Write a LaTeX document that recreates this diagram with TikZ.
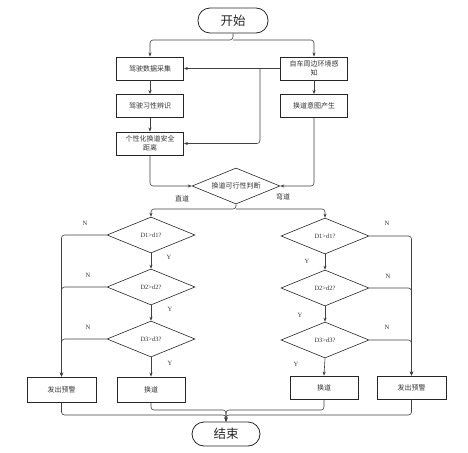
\documentclass[tikz,border=0pt]{standalone}
\usepackage{fontspec}
\setmainfont{Liberation Serif}
\newfontfamily\cjk{Noto Sans CJK SC}
\usetikzlibrary{shapes.geometric,arrows.meta}
\begin{document}
\begin{tikzpicture}[x=1pt,y=-1pt,
  box/.style={draw=black!85, line width=0.9pt, minimum width=67pt, minimum height=23pt, inner sep=1pt,
    font=\cjk\fontsize{7}{9}\selectfont, text=black!80, align=center},
  term/.style={draw=black!85, line width=0.8pt, rounded corners=12pt, minimum width=70pt, minimum height=25pt,
    font=\cjk\fontsize{12.5}{14}\selectfont, text=black!85},
  dia/.style={diamond, draw=black!85, line width=0.6pt, aspect=2.45, minimum width=88pt, minimum height=36pt,
    inner sep=0pt, font=\fontsize{6.5}{8}\selectfont, text=black!80},
  fdia/.style={dia, font=\cjk\fontsize{7}{8}\selectfont},
  conn/.style={draw=black!75, line width=0.6pt, rounded corners=3pt, -{Stealth[length=4pt,width=3.2pt]}},
  lab/.style={font=\fontsize{6.5}{8}\selectfont, text=black!80, inner sep=0pt},
  clab/.style={font=\cjk\fontsize{7}{8}\selectfont, text=black!80, inner sep=0pt}]
\useasboundingbox (0,0) rectangle (468,452);

\node[term] (start) at (233,20.5) {开始};
\node[box] (b1) at (150,68.5) {驾驶数据采集};
\node[box] (r1) at (314,68.5) {自车周边环境感\\知};
\node[box] (b2) at (150,106) {驾驶习性辨识};
\node[box] (r2) at (314,106) {换道意图产生};
\node[box] (b3) at (150,143.5) {个性化换道安全\\距离};
\node[fdia] (fd) at (236,186) {换道可行性判断};

\node[dia] (L1) at (151,235) {D1>d1?};
\node[dia] (L2) at (151,287) {D2>d2?};
\node[dia] (L3) at (151,339) {D3>d3?};
\node[dia] (R1) at (325,236) {D1>d1?};
\node[dia] (R2) at (325,288) {D2>d2?};
\node[dia] (R3) at (325,340) {D3>d3?};

\node[box, minimum width=69pt, minimum height=25pt] (LW) at (61.5,389.5) {发出预警};
\node[box, minimum width=68pt, minimum height=25pt] (LC) at (151,389.5) {换道};
\node[box, minimum width=68pt] (RC) at (324,387.5) {换道};
\node[box, minimum width=69pt] (RW) at (411.5,387.5) {发出预警};
\node[term, minimum width=68pt, minimum height=24pt] (end) at (226,434) {结束};

% labels
\node[clab] (zd) at (182,199) {直道};
\node[clab] (wd) at (283,197) {弯道};
\node[lab] (ly1) at (169,257) {Y};
\node[lab] (ly2) at (170,309) {Y};
\node[lab] (ly3) at (170,363) {Y};
\node[lab] (ln1) at (85,223) {N};
\node[lab] (ln2) at (88,275) {N};
\node[lab] (ln3) at (88,327) {N};
\node[lab] (ry1) at (307,261) {Y};
\node[lab] (ry2) at (300,315) {Y};
\node[lab] (ry3) at (296,364) {Y};
\node[lab] (rn1) at (387,223) {N};
\node[lab] (rn2) at (388,276) {N};
\node[lab] (rn3) at (387,327) {N};

% connectors
\coordinate (s) at (233,40);
\draw[conn] (start.south) -- (s) -| (b1.north);
\draw[conn] (s) -| (r1.north);
\draw[conn] (r1.west) -- (b1.east);
\coordinate (k) at (260,68.5);
\draw[conn] (k) |- (b3.east);
\draw[conn] (b1.south) -- (b2.north);
\draw[conn] (b2.south) -- (b3.north);
\draw[conn] (r1.south) -- (r2.north);
\draw[conn] (b3.south) |- (fd.west);
\draw[conn] (r2.south) |- (fd.east);

\coordinate (fs) at (236,209);
\draw[conn] (fd.south) -- (fs) -| (L1.north);
\draw[conn] (fs) -| (R1.north);

\draw[conn] (L1.south) -- (L2.north);
\draw[conn] (L2.south) -- (L3.north);
\draw[conn] (L3.south) -- (LC.north);
\draw[conn] (R1.south) -- (R2.north);
\draw[conn] (R2.south) -- (R3.north);
\draw[conn] (R3.south) -- (RC.north);

\draw[conn] (L1.west) -| (LW.north);
\draw[conn] (L2.west) -| (LW.north);
\draw[conn] (L3.west) -| (LW.north);
\draw[conn] (R1.east) -| (RW.north);
\draw[conn] (R2.east) -| (RW.north);
\draw[conn] (R3.east) -| (RW.north);

\coordinate (j1) at (226,415);
\coordinate (j2) at (226,410);
\draw[conn] (LW.south) |- (j1) -- (end.north);
\draw[conn] (RW.south) |- (j1) -- (end.north);
\draw[conn] (LC.south) |- (j2) -- (end.north);
\draw[conn] (RC.south) |- (j2) -- (end.north);
\end{tikzpicture}
\end{document}
